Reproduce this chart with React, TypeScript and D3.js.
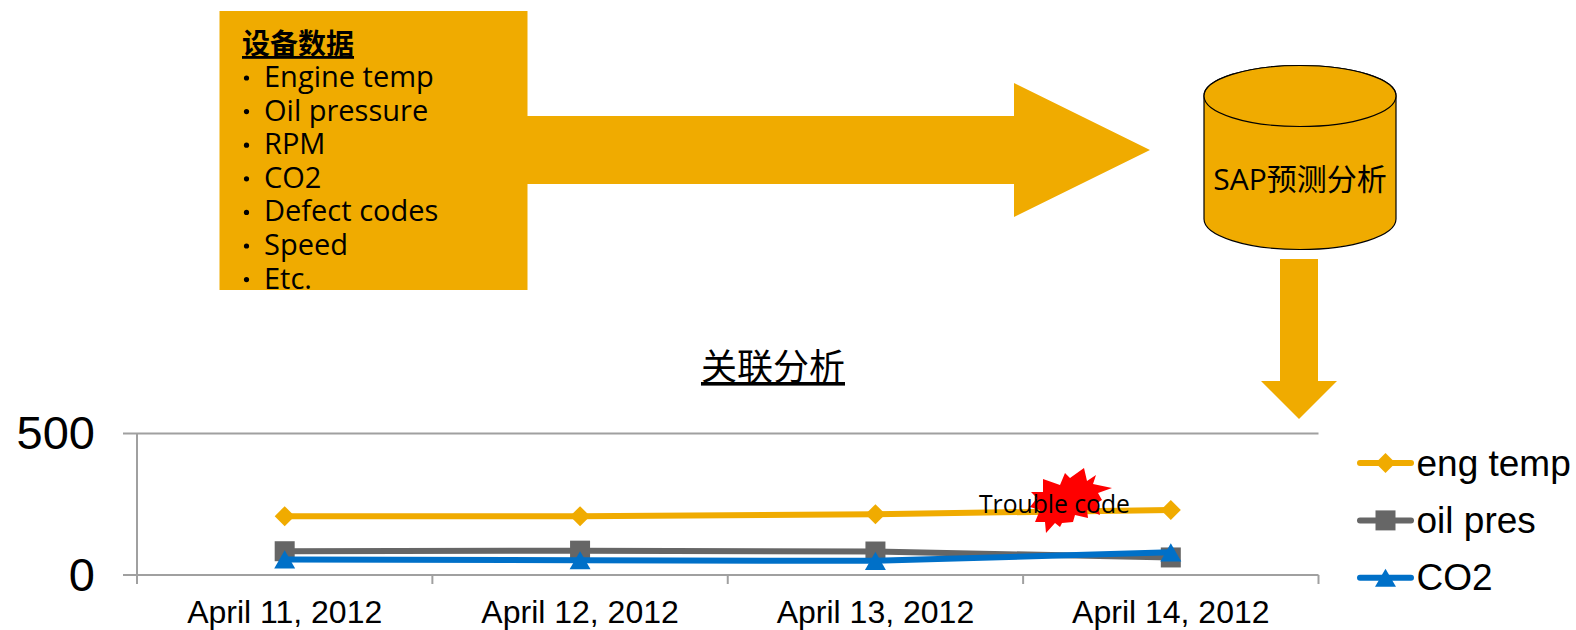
import React, { useEffect, useRef } from 'react';
import * as d3 from 'd3';

const WIDTH = 1576;
const HEIGHT = 630;

const dates = ['April 11, 2012', 'April 12, 2012', 'April 13, 2012', 'April 14, 2012'];
const engTemp = [208, 208, 215, 230];
const oilPres = [84, 86, 83, 62];
const co2 = [55, 52, 50, 80];
const yTicks = [0, 500];

const deviceItems = ['Engine temp', 'Oil pressure', 'RPM', 'CO2', 'Defect codes', 'Speed', 'Etc.'];

const ORANGE = '#F0AB00';
const GREY = '#666666';
const BLUE = '#0070C8';
const AXIS = '#A0A0A0';
const UI_FONT = '"Open Sans", "Noto Sans CJK SC", sans-serif';
const CHART_FONT = '"Liberation Sans", "Noto Sans CJK SC", sans-serif';

// the diamond is a rotated square, the triangle sits a little low on the line
const series = [
  { name: 'eng temp', values: engTemp, color: ORANGE, symbol: d3.symbolSquare, size: 200, rotate: 45, dy: 0 },
  { name: 'oil pres', values: oilPres, color: GREY, symbol: d3.symbolSquare, size: 400, rotate: 0, dy: 0 },
  { name: 'CO2', values: co2, color: BLUE, symbol: d3.symbolTriangle, size: 190, rotate: 0, dy: 3 },
];

// outline of the red burst, offsets from its centre
const burst = [
  [-11, -26], [6, -20], [11, -32], [16, -27], [30, -37], [33, -24], [42, -30], [39, -21], [58, -17],
  [44, -12], [48, -5], [43, -2], [46, 10], [33, 5], [34, 13], [21, 10], [19, 17], [8, 18], [6, 22], [1, 18],
  [-8, 28], [-9, 17], [-19, 17], [-14, 5], [-24, 2], [-17, -7], [-23, -13], [-11, -13],
];

export default function App() {
  const ref = useRef<SVGSVGElement>(null);

  useEffect(() => {
    const svg = d3.select(ref.current);
    svg.selectAll('*').remove();

    const pointer = (pts: [number, number][]) => d3.line()(pts) + 'Z';

    // top flow
    svg.append('path')
      .attr('fill', ORANGE)
      .attr('d', pointer([[520, 116], [1014, 116], [1014, 83], [1150, 150], [1014, 217], [1014, 184], [520, 184]]));

    svg.append('rect').attr('x', 219.5).attr('y', 11).attr('width', 308).attr('height', 279).attr('fill', ORANGE);

    svg.append('defs').append('clipPath').attr('id', 'boxClip')
      .append('rect').attr('x', 219.5).attr('y', 11).attr('width', 308).attr('height', 279);

    const box = svg.append('g').attr('clip-path', 'url(#boxClip)').attr('font-family', UI_FONT).attr('fill', '#000');
    box.append('text')
      .attr('x', 242).attr('y', 54)
      .attr('font-size', 28).attr('font-weight', 700).attr('text-decoration', 'underline')
      .text('设备数据');
    deviceItems.forEach((item, i) => {
      const y = 87 + i * 33.6;
      box.append('circle').attr('cx', 246.5).attr('cy', y - 9).attr('r', 2.6);
      box.append('text').attr('x', 264).attr('y', y).attr('font-size', 29).text(item);
    });

    // cylinder
    const cx = 1300, rx = 96, ry = 30.5, top = 96, bottom = 219;
    svg.append('path')
      .attr('fill', ORANGE).attr('stroke', '#000').attr('stroke-width', 1.2)
      .attr('d', `M${cx - rx},${top}V${bottom}A${rx},${ry} 0 0 0 ${cx + rx},${bottom}V${top}A${rx},${ry} 0 0 0 ${cx - rx},${top}Z`);
    svg.append('ellipse')
      .attr('cx', cx).attr('cy', top).attr('rx', rx).attr('ry', ry)
      .attr('fill', ORANGE).attr('stroke', '#000').attr('stroke-width', 1.2);
    svg.append('text')
      .attr('x', cx).attr('y', 190).attr('text-anchor', 'middle')
      .attr('font-family', UI_FONT).attr('font-size', 30).text('SAP预测分析');

    // down arrow
    svg.append('path')
      .attr('fill', ORANGE)
      .attr('d', pointer([[1280, 259], [1318, 259], [1318, 381], [1337, 381], [1299, 419], [1261, 381], [1280, 381]]));

    svg.append('text')
      .attr('x', 773).attr('y', 380).attr('text-anchor', 'middle')
      .attr('font-family', UI_FONT).attr('font-size', 36).attr('text-decoration', 'underline')
      .text('关联分析');

    // chart
    const x = d3.scaleBand().domain(dates).range([137, 1318.5]);
    const y = d3.scaleLinear().domain([0, 500]).range([575, 433.5]);
    const chart = svg.append('g');

    const xAxis = chart.append('g')
      .attr('transform', `translate(0,${y(0)})`)
      .call(d3.axisBottom(x).tickSize(0).tickPadding(25));
    xAxis.select('.domain').remove();
    xAxis.selectAll('text').attr('font-family', CHART_FONT).attr('font-size', 32).attr('fill', '#000').attr('dy', '0.72em');

    // band edges carry the ticks, not the centres
    const edges = [...dates.map(d => x(d) as number), x.range()[1]];
    chart.selectAll('.xTick').data(edges).join('line')
      .attr('x1', d => d).attr('x2', d => d)
      .attr('y1', y(0)).attr('y2', y(0) + 9)
      .attr('stroke', AXIS).attr('stroke-width', 2);

    chart.selectAll('.grid').data(yTicks).join('line')
      .attr('x1', 123).attr('x2', 1318.5)
      .attr('y1', d => y(d)).attr('y2', d => y(d))
      .attr('stroke', AXIS).attr('stroke-width', 2);
    chart.append('line')
      .attr('x1', 137).attr('x2', 137).attr('y1', y(500)).attr('y2', y(0) + 9)
      .attr('stroke', AXIS).attr('stroke-width', 2);

    chart.selectAll('.yLabel').data(yTicks).join('text')
      .attr('x', 95).attr('y', d => y(d) + 15.5).attr('text-anchor', 'end')
      .attr('font-family', CHART_FONT).attr('font-size', 47).text(d => d);

    const line = d3.line<number>()
      .x((_, i) => (x(dates[i]) as number) + x.bandwidth() / 2)
      .y(d => y(d));

    series.forEach(s => {
      chart.append('path').datum(s.values)
        .attr('fill', 'none').attr('stroke', s.color).attr('stroke-width', 6).attr('stroke-linecap', 'round')
        .attr('d', line);
      chart.selectAll(null).data(s.values).join('path')
        .attr('fill', s.color)
        .attr('transform', (d, i) => `translate(${(x(dates[i]) as number) + x.bandwidth() / 2},${y(d) + s.dy}) rotate(${s.rotate})`)
        .attr('d', d3.symbol().type(s.symbol).size(s.size)());
    });

    // trouble annotation
    const burstPath = d3.line()(burst as [number, number][]) + 'Z';
    svg.append('path').attr('fill', '#FF0000').attr('transform', 'translate(1054,505)').attr('d', burstPath);
    svg.append('text')
      .attr('x', 979).attr('y', 513)
      .attr('font-family', UI_FONT).attr('font-size', 24.7).text('Trouble code');

    // legend
    const legend = svg.append('g').attr('font-family', CHART_FONT).attr('font-size', 37);
    series.forEach((s, i) => {
      const ly = 463 + i * 57.4;
      legend.append('line')
        .attr('x1', 1360).attr('x2', 1411).attr('y1', ly).attr('y2', ly)
        .attr('stroke', s.color).attr('stroke-width', 6).attr('stroke-linecap', 'round');
      legend.append('path')
        .attr('fill', s.color).attr('transform', `translate(1385.5,${ly + s.dy}) rotate(${s.rotate})`)
        .attr('d', d3.symbol().type(s.symbol).size(s.size)());
      legend.append('text').attr('x', 1416.5).attr('y', ly + 12.5).text(s.name);
    });
  }, []);

  return (
    <svg
      ref={ref}
      width={WIDTH}
      height={HEIGHT}
      style={{ position: 'absolute', left: 0, top: 0, background: '#fff' }}
    />
  );
}
